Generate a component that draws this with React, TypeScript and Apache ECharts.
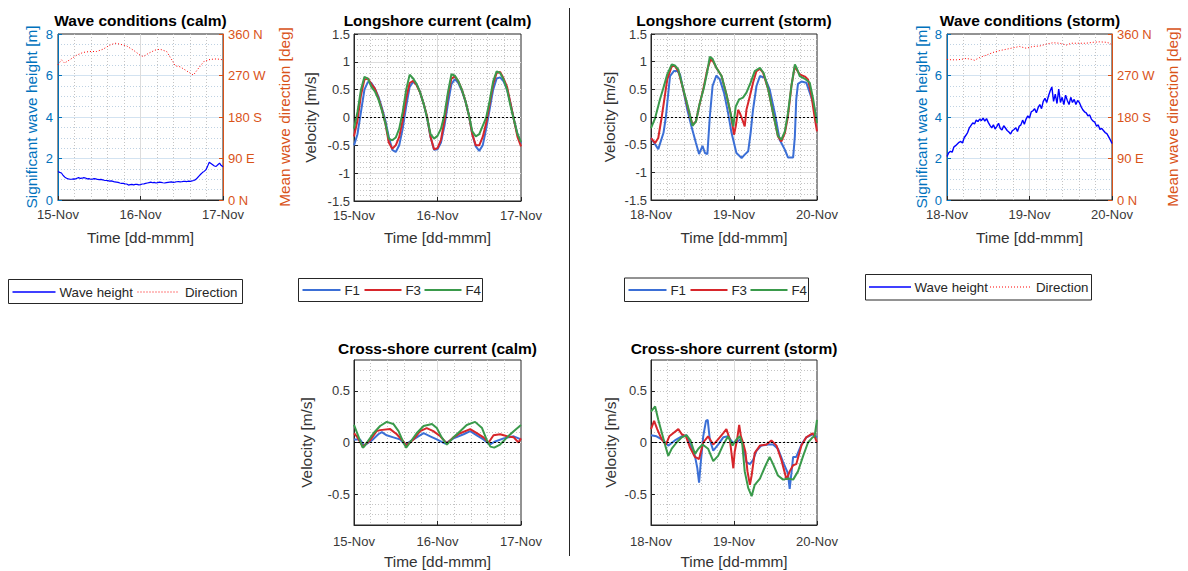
import React, { useEffect, useRef } from "react";
import * as echarts from "echarts";

// ---------- styling constants ----------
const FONT = '"Liberation Sans", Arial, Helvetica, sans-serif';
const INK = "#262626";
const TICK_TEXT = "#383838";
const HS_AXIS = "#0072BD";
const DIR_AXIS = "#D95319";
const HS_LINE = "#0000FF";
const DIR_LINE = "#FF0000";
const C_F1 = "#3B6FD6";
const C_F3 = "#D7262B";
const C_F4 = "#3A9A4B";
const MAJOR_GRID = "#dcdcdc";
const MAJOR_GRID_BLUE = "#d3e3f1";
const MINOR_GRID = "#c4c4c4";

// ---------- tick labels ----------
const CALM_DAYS = ["15-Nov", "16-Nov", "17-Nov"];
const STORM_DAYS = ["18-Nov", "19-Nov", "20-Nov"];
const DIRECTION_TICKS = ["0 N", "90 E", "180 S", "270 W", "360 N"];
const CROSS_TICKS = [-0.5, 0, 0.5];

// ---------- calm period (hours since 15-Nov 00:00) ----------
const CALM_HOURS = [
  0, 1, 2, 3, 4, 5, 6, 7, 8, 9, 10, 11, 12, 13, 14, 15, 16, 17, 18, 19, 20, 21, 22, 23, 24,
  25, 26, 27, 28, 29, 30, 31, 32, 33, 34, 35, 36, 37, 38, 39, 40, 41, 42, 43, 44, 45, 46, 47, 48,
];

const CALM_HS: [number, number][] = [
  [0, 1.37], [0.5, 1.33], [1, 1.3], [1.5, 1.18], [2, 1.1], [2.5, 1.05], [3, 1.02], [3.5, 1.0],
  [4, 1.0], [4.5, 1.02], [5, 1.01], [5.5, 1.05], [6, 1.08], [6.5, 1.04], [7, 1.05], [7.5, 1.08],
  [8, 1.06], [8.5, 1.02], [9, 1.03], [9.5, 1.0], [10, 1.01], [10.5, 1.03], [11, 1.02], [11.5, 0.99],
  [12, 0.98], [12.5, 0.99], [13, 0.97], [13.5, 0.95], [14, 0.94], [14.5, 0.93], [15, 0.91],
  [15.5, 0.92], [16, 0.9], [16.5, 0.87], [17, 0.86], [17.5, 0.85], [18, 0.82], [18.5, 0.8],
  [19, 0.8], [19.5, 0.78], [20, 0.77], [20.5, 0.72], [21, 0.74], [21.5, 0.75], [22, 0.73],
  [22.5, 0.75], [23, 0.75], [23.5, 0.73], [24, 0.74], [24.5, 0.77], [25, 0.78], [25.5, 0.8],
  [26, 0.82], [26.5, 0.84], [27, 0.86], [27.5, 0.83], [28, 0.85], [28.5, 0.82], [29, 0.84],
  [29.5, 0.86], [30, 0.85], [30.5, 0.83], [31, 0.82], [31.5, 0.84], [32, 0.85], [32.5, 0.86],
  [33, 0.87], [33.5, 0.85], [34, 0.86], [34.5, 0.88], [35, 0.89], [35.5, 0.87], [36, 0.88],
  [36.5, 0.9], [37, 0.9], [37.5, 0.89], [38, 0.91], [38.5, 0.9], [39, 0.92], [39.5, 0.94],
  [40, 0.98], [40.5, 1.06], [41, 1.15], [41.5, 1.24], [42, 1.32], [42.5, 1.38], [43, 1.45],
  [43.5, 1.62], [44, 1.82], [44.5, 1.76], [45, 1.7], [45.5, 1.64], [46, 1.62], [46.5, 1.7],
  [47, 1.78], [47.5, 1.66], [48, 1.6],
];

const CALM_DIR: [number, number][] = [
  [0, 293], [1, 304], [1.9, 297], [3.4, 304], [5.4, 314], [7.3, 320], [9.2, 322], [11.2, 322],
  [13.1, 327], [15.1, 336], [16.6, 340], [18, 338], [20, 334], [21.9, 325], [23.9, 314],
  [24.8, 311], [26.3, 318], [28.2, 325], [29.7, 327], [31.6, 322], [33.1, 304], [34.1, 291],
  [35.5, 289], [37, 282], [38.5, 275], [39.4, 271], [40.9, 286], [42.4, 300], [44.3, 305],
  [46.2, 306], [48, 304],
];

const CALM_LONG_F1 = [
  -0.5, -0.3, 0.1, 0.5, 0.64, 0.62, 0.52, 0.38, 0.18, -0.05, -0.35, -0.58, -0.62, -0.5, -0.2, 0.2,
  0.55, 0.64, 0.6, 0.45, 0.25, 0.0, -0.35, -0.58, -0.57, -0.45, -0.15, 0.25, 0.6, 0.69, 0.62, 0.48,
  0.3, 0.05, -0.3, -0.52, -0.6, -0.5, -0.2, 0.15, 0.5, 0.7, 0.72, 0.65, 0.5, 0.25, -0.05, -0.3, -0.47,
];
const CALM_LONG_F3 = [
  -0.34, -0.05, 0.4, 0.68, 0.7, 0.6, 0.52, 0.35, 0.15, -0.1, -0.45, -0.56, -0.5, -0.35, -0.05, 0.35,
  0.62, 0.66, 0.58, 0.45, 0.25, 0.02, -0.35, -0.57, -0.55, -0.4, -0.05, 0.4, 0.7, 0.74, 0.65, 0.5,
  0.3, 0.05, -0.3, -0.5, -0.5, -0.35, -0.1, 0.25, 0.6, 0.8, 0.82, 0.7, 0.55, 0.25, -0.05, -0.35, -0.52,
];
const CALM_LONG_F4 = [
  -0.2, 0.1, 0.5, 0.73, 0.7, 0.55, 0.47, 0.33, 0.13, -0.1, -0.38, -0.41, -0.36, -0.2, 0.1, 0.5,
  0.77, 0.7, 0.6, 0.45, 0.25, 0.0, -0.3, -0.38, -0.33, -0.2, 0.05, 0.45, 0.78, 0.75, 0.65, 0.5,
  0.3, 0.05, -0.25, -0.34, -0.3, -0.15, 0.0, 0.3, 0.65, 0.83, 0.8, 0.68, 0.5, 0.2, -0.05, -0.3, -0.44,
];

const CALM_CROSS_F1: [number, number][] = [
  [0, 0.03], [1.7, 0.03], [2.9, -0.03], [5.1, 0.02], [7, 0.08], [8, 0.1], [9.4, 0.07], [11.3, 0.05],
  [13.2, 0.03], [14.7, -0.02], [17.1, 0.03], [20, 0.09], [21.9, 0.06], [23.8, 0.03], [26.2, -0.01],
  [28.6, 0.04], [31.5, 0.08], [33.4, 0.11], [35.3, 0.07], [37.2, 0.03], [39, -0.02], [40.6, 0.01],
  [43, 0.04], [45.9, 0.06], [48, 0.03],
];
const CALM_CROSS_F3: [number, number][] = [
  [0, 0.09], [0.8, 0.06], [2.5, -0.04], [4.6, 0.02], [6.5, 0.11], [7.5, 0.12], [10.4, 0.13],
  [12.3, 0.08], [14.2, 0.01], [15, -0.03], [17.1, 0.03], [19, 0.11], [20.9, 0.14], [22.8, 0.11],
  [24.8, 0.06], [26.7, -0.01], [28.6, 0.05], [30.5, 0.09], [33.4, 0.13], [35.3, 0.09], [37.2, 0.05],
  [38.7, 0.0], [40.1, 0.07], [42, 0.08], [44, 0.06], [45.9, 0.05], [47.3, 0.0], [48, 0.04],
];
const CALM_CROSS_F4: [number, number][] = [
  [0, 0.17], [2.5, -0.05], [2.9, -0.04], [5.6, 0.09], [7.5, 0.16], [9.4, 0.2], [11.3, 0.18],
  [12.8, 0.11], [14.2, 0.0], [15, -0.05], [16.1, 0.0], [18, 0.09], [20, 0.16], [22.4, 0.18],
  [23.8, 0.14], [25.2, 0.05], [26.7, -0.02], [28.6, 0.05], [30.5, 0.11], [32.4, 0.17], [34.8, 0.2],
  [36.8, 0.14], [38.2, 0.02], [39.2, -0.04], [40.3, -0.05], [42, -0.02], [44, 0.05], [45.9, 0.11],
  [48, 0.17],
];

// ---------- storm period (hours since 18-Nov 00:00) ----------
const STORM_HS: [number, number][] = [
  [0, 2.1], [0.5, 2.28], [1, 2.35], [1.5, 2.3], [2, 2.55], [2.5, 2.62], [3, 2.7], [3.5, 2.78],
  [4, 2.82], [4.5, 2.75], [5, 3.0], [5.5, 3.12], [6, 3.25], [6.5, 3.48], [7, 3.6], [7.5, 3.72],
  [8, 3.66], [8.5, 3.85], [9, 3.78], [9.5, 3.9], [10, 3.82], [10.5, 3.95], [11, 3.8], [11.5, 3.92],
  [12, 3.74], [12.5, 3.6], [13, 3.48], [13.5, 3.62], [14, 3.42], [14.5, 3.55], [15, 3.7], [15.5, 3.45],
  [16, 3.38], [16.5, 3.58], [17, 3.47], [17.5, 3.35], [18, 3.28], [18.5, 3.18], [19, 3.34], [19.5, 3.4],
  [20, 3.48], [20.5, 3.3], [21, 3.55], [21.5, 3.62], [22, 3.85], [22.5, 3.65], [23, 3.9], [23.5, 4.05],
  [24, 3.95], [24.5, 4.25], [25, 4.3], [25.5, 4.4], [26, 4.2], [26.5, 4.45], [27, 4.6], [27.5, 4.4],
  [28, 4.75], [28.5, 4.9], [29, 4.7], [29.5, 5.0], [30, 5.25], [30.5, 5.45], [31, 4.75], [31.5, 5.1],
  [32, 4.65], [32.5, 5.35], [33, 4.7], [33.5, 4.95], [34, 4.6], [34.5, 5.05], [35, 4.8], [35.5, 4.6],
  [36, 4.95], [36.5, 4.7], [37, 4.85], [37.5, 4.6], [38, 4.8], [38.5, 4.7], [39, 4.5], [39.5, 4.35],
  [40, 4.25], [40.5, 4.2], [41, 4.05], [41.5, 4.1], [42, 3.9], [42.5, 3.8], [43, 3.75], [43.5, 3.55],
  [44, 3.62], [44.5, 3.4], [45, 3.45], [45.5, 3.35], [46, 3.25], [46.5, 3.2], [47, 3.05], [47.5, 2.9],
  [48, 2.72],
];

const STORM_DIR: [number, number][] = [
  [0, 305], [1.3, 304], [2.7, 304], [4.2, 305], [5.6, 307], [7.1, 305], [8, 303], [9.5, 309],
  [11.4, 314], [13.4, 320], [15.3, 324], [17.3, 327], [19.2, 330], [21.1, 333], [23.1, 329],
  [25, 333], [27, 334], [28.9, 338], [30.8, 341], [32.8, 340], [34.7, 336], [36.2, 340],
  [38.6, 340], [40.5, 340], [42.5, 342], [44.4, 343], [46.4, 342], [47.3, 340], [48, 336],
];

const STORM_LONG_F1: [number, number][] = [
  [0, -0.38], [2.1, -0.58], [3.6, -0.29], [4.3, 0], [5.5, 0.74], [6.6, 0.83], [7.6, 0.83],
  [8.4, 0.77], [9.3, 0.5], [10.5, 0.13], [11.7, -0.17], [13, -0.47], [13.9, -0.67], [14.9, -0.52],
  [15.6, -0.65], [16.3, -0.67], [17, 0], [17.8, 0.56], [18.9, 0.75], [19.9, 0.68], [21.1, 0.44],
  [22.3, 0.07], [23.3, -0.29], [24.7, -0.65], [26.2, -0.74], [27.1, -0.68], [28.1, -0.62],
  [28.8, -0.29], [29.5, 0.13], [30.5, 0.56], [31.5, 0.74], [32.9, 0.71], [34.3, 0.5], [35.8, 0.07],
  [37.2, -0.41], [38.7, -0.59], [39.6, -0.73], [41.1, -0.73], [41.6, -0.35], [42, 0.32], [42.5, 0.6],
  [43.5, 0.64], [44.9, 0.62], [45.9, 0.44], [46.9, 0.25], [48, -0.05],
];
const STORM_LONG_F3: [number, number][] = [
  [0, -0.38], [1.2, -0.47], [2.1, -0.38], [3.1, 0], [4, 0.38], [4.7, 0.68], [6, 0.92], [6.9, 0.92],
  [7.9, 0.83], [9.3, 0.5], [10.8, 0.13], [12, -0.14], [13, -0.08], [13.9, 0.19], [15.1, 0.5],
  [16.3, 0.86], [17.2, 1.04], [18, 1.0], [18.9, 0.89], [20.4, 0.74], [21.8, 0.41], [23, 0.07],
  [24, -0.32], [24.5, -0.17], [25.2, 0.13], [25.7, 0.07], [26.6, -0.08], [27.1, -0.17], [27.6, 0.13],
  [28.6, 0.38], [29.5, 0.62], [30.5, 0.83], [31.5, 0.87], [32.4, 0.8], [33.9, 0.5], [35.3, 0.07],
  [36.7, -0.35], [37.7, -0.44], [38.7, -0.29], [39.6, 0.01], [40.6, 0.56], [41.6, 0.92], [42.1, 0.86],
  [43, 0.77], [44.5, 0.73], [45.4, 0.68], [46.4, 0.38], [47.3, 0], [48, -0.26],
];
const STORM_LONG_F4: [number, number][] = [
  [0, -0.2], [1.2, -0.02], [2.6, 0.32], [3.6, 0.53], [4.7, 0.77], [6, 0.95], [6.9, 0.93], [7.9, 0.86],
  [9.3, 0.51], [10.8, 0.16], [12, -0.16], [13, -0.08], [14.1, 0.25], [15.3, 0.53], [16.3, 0.83],
  [17, 1.09], [17.8, 1.05], [18.9, 0.89], [20.4, 0.74], [21.8, 0.41], [23, 0.07], [23.8, -0.17],
  [24.5, 0.19], [25.5, 0.32], [26.6, 0.35], [27.6, 0.44], [28.8, 0.62], [30, 0.83], [31.5, 0.89],
  [32.6, 0.79], [33.9, 0.5], [35.3, 0.07], [36.7, -0.34], [37.7, -0.41], [38.7, -0.26], [39.6, 0.07],
  [40.6, 0.56], [41.6, 0.95], [42.1, 0.89], [43, 0.74], [44.5, 0.69], [45.9, 0.62], [46.9, 0.32],
  [48, -0.11],
];

const STORM_CROSS_F1: [number, number][] = [
  [0, 0.07], [1.6, 0.06], [3.6, 0.02], [5, -0.03], [6.9, 0.02], [8.9, 0.06], [10.3, 0.07],
  [11.4, -0.02], [12.7, -0.13], [13.4, -0.25], [13.9, -0.39], [14.4, -0.19], [15.1, 0.06],
  [15.9, 0.21], [16.4, 0.22], [17, 0.03], [18, -0.08], [19.4, -0.02], [20.9, 0.05], [22.3, 0.06],
  [23.6, 0], [24.7, 0], [25.7, 0.03], [26.6, -0.02], [27.6, -0.19], [28.6, -0.21], [29.5, -0.17],
  [30.5, -0.08], [31.9, -0.03], [33.9, -0.02], [35.3, -0.02], [36.7, -0.06], [38.2, -0.19],
  [39.6, -0.3], [40.1, -0.45], [40.6, -0.3], [41.1, -0.14], [42, -0.14], [43.5, -0.02],
  [44.9, 0.05], [46.8, 0.08], [48, 0.05],
];
const STORM_CROSS_F3: [number, number][] = [
  [0, 0.13], [0.9, 0.21], [1.8, 0.13], [3.1, 0.03], [4.3, -0.02], [5.3, 0.06], [6.4, 0.09],
  [7.9, 0.13], [8.9, 0.08], [10.1, 0.06], [11.3, -0.05], [12.7, -0.14], [13.9, -0.16], [15.1, 0],
  [16.5, 0.06], [18, -0.02], [19.4, 0.03], [20.9, 0.09], [21.8, 0.13], [22.8, 0.03], [23.8, -0.25],
  [24.2, -0.09], [24.9, 0.03], [25.5, 0.17], [26, 0.06], [26.6, 0], [27.3, -0.09], [27.9, -0.28],
  [28.6, -0.41], [29.1, -0.32], [30, -0.1], [31.5, -0.03], [33.4, -0.02], [34.8, 0.02], [36.3, -0.03],
  [37.7, -0.17], [39.2, -0.36], [40.1, -0.28], [41.1, -0.22], [42, -0.21], [43.5, -0.03],
  [44.9, 0.05], [46.7, 0.09], [47.3, 0.06], [48, 0],
];
const STORM_CROSS_F4: [number, number][] = [
  [0, 0.3], [1.2, 0.35], [2.1, 0.22], [3.4, 0.06], [4.3, -0.05], [5, -0.13], [6, -0.06], [7.4, 0],
  [8.9, 0.05], [10.3, 0.07], [11.4, 0.02], [12.7, -0.11], [13.7, -0.06], [14.9, -0.02], [16.5, -0.06],
  [18, -0.18], [19.4, -0.13], [20.9, -0.02], [22.3, 0.06], [23.6, -0.03], [24.7, 0.03], [25.7, 0.06],
  [26.4, -0.02], [27.1, -0.28], [28.1, -0.44], [29.1, -0.52], [30, -0.41], [31.5, -0.35],
  [32.9, -0.24], [34.3, -0.14], [35.3, -0.21], [36.7, -0.32], [38.2, -0.36], [39.6, -0.35],
  [41.1, -0.36], [42.5, -0.28], [44, -0.13], [45.4, 0], [46.7, 0.05], [47.3, 0.06], [48, 0.22],
];

// ---------- helpers ----------
const withHours = (values: number[]) => CALM_HOURS.map((h, i) => [h, values[i]]);

const textStyle = (size: number, color: string, weight: string = "normal") => ({
  fontFamily: FONT,
  fontSize: size,
  color,
  fontWeight: weight,
});

function timeAxis(gridIndex: number, days: string[], labelMargin: number, nameGap: number) {
  return {
    type: "value",
    gridIndex,
    min: 0,
    max: 48,
    interval: 24,
    axisLine: { show: true, onZero: false, lineStyle: { color: INK, width: 1 } },
    axisTick: { show: true, inside: true, length: 4, lineStyle: { color: INK } },
    axisLabel: {
      margin: labelMargin,
      ...textStyle(13, TICK_TEXT),
      formatter: (v: number) => days[Math.round(v / 24)] ?? "",
    },
    splitLine: {
      show: true,
      showMinLine: false,
      showMaxLine: false,
      lineStyle: { color: MAJOR_GRID, width: 1 },
    },
    minorTick: { show: false, splitNumber: 5 },
    minorSplitLine: { show: true, lineStyle: { color: MINOR_GRID, width: 1, type: [1, 2] } },
    name: "Time [dd-mmm]",
    nameLocation: "middle",
    nameGap,
    nameTextStyle: textStyle(15.4, "#333333"),
  };
}

function velocityAxis(gridIndex: number, nameGap: number) {
  return {
    type: "value",
    gridIndex,
    min: -1.5,
    max: 1.5,
    interval: 0.5,
    axisLine: { show: true, onZero: false, lineStyle: { color: INK, width: 1 } },
    axisTick: { show: true, inside: true, length: 4, lineStyle: { color: INK } },
    axisLabel: { margin: 4, ...textStyle(13, TICK_TEXT) },
    splitLine: {
      show: true,
      showMinLine: false,
      showMaxLine: false,
      lineStyle: { color: MAJOR_GRID, width: 1 },
    },
    minorTick: { show: false, splitNumber: 5 },
    minorSplitLine: { show: true, lineStyle: { color: MINOR_GRID, width: 1, type: [1, 2] } },
    name: "Velocity [m/s]",
    nameLocation: "middle",
    nameRotate: 90,
    nameGap,
    nameTextStyle: textStyle(15.4, "#333333"),
  };
}

function crossAxis(gridIndex: number, nameGap: number) {
  return {
    type: "value",
    gridIndex,
    min: -0.8,
    max: 0.8,
    interval: 0.1,
    axisLine: { show: true, onZero: false, lineStyle: { color: INK, width: 1 } },
    axisTick: { show: true, inside: true, length: 4, customValues: CROSS_TICKS, lineStyle: { color: INK } },
    axisLabel: { margin: 4, customValues: CROSS_TICKS, ...textStyle(13, TICK_TEXT) },
    splitLine: {
      show: true,
      showMinLine: false,
      showMaxLine: false,
      lineStyle: { color: MAJOR_GRID, width: 1 },
    },
    name: "Velocity [m/s]",
    nameLocation: "middle",
    nameRotate: 90,
    nameGap,
    nameTextStyle: textStyle(15.4, "#333333"),
  };
}

// fine dotted grid every 0.1 m/s for the cross-shore panels
function crossMinorAxis(gridIndex: number) {
  return {
    type: "value",
    gridIndex,
    min: -0.8,
    max: 0.8,
    interval: 0.1,
    position: "left",
    axisLine: { show: false },
    axisTick: { show: false },
    axisLabel: { show: false },
    splitLine: {
      show: true,
      showMinLine: false,
      showMaxLine: false,
      lineStyle: { color: MINOR_GRID, width: 1, type: [1, 2] },
    },
  };
}

function heightAxis(gridIndex: number, nameGap: number) {
  return {
    type: "value",
    gridIndex,
    position: "left",
    min: 0,
    max: 8,
    interval: 2,
    axisLine: { show: true, onZero: false, lineStyle: { color: HS_AXIS, width: 1 } },
    axisTick: { show: true, inside: true, length: 4, lineStyle: { color: HS_AXIS } },
    axisLabel: { margin: 5, ...textStyle(13, HS_AXIS) },
    splitLine: {
      show: true,
      showMinLine: false,
      showMaxLine: false,
      lineStyle: { color: MAJOR_GRID_BLUE, width: 1 },
    },
    minorTick: { show: false, splitNumber: 4 },
    minorSplitLine: { show: true, lineStyle: { color: "#bfd2e3", width: 1, type: [1, 2] } },
    name: "Significant wave height [m]",
    nameLocation: "middle",
    nameRotate: 90,
    nameGap,
    nameTextStyle: textStyle(15.4, HS_AXIS),
  };
}

function directionAxis(gridIndex: number, nameGap: number) {
  return {
    type: "value",
    gridIndex,
    position: "right",
    min: 0,
    max: 360,
    interval: 90,
    axisLine: { show: true, onZero: false, lineStyle: { color: DIR_AXIS, width: 1 } },
    axisTick: { show: true, inside: true, length: 4, lineStyle: { color: DIR_AXIS } },
    axisLabel: {
      margin: 5,
      ...textStyle(13, DIR_AXIS),
      formatter: (v: number) => DIRECTION_TICKS[Math.round(v / 90)] ?? "",
    },
    splitLine: { show: false },
    name: "Mean wave direction [deg]",
    nameLocation: "middle",
    nameRotate: 90,
    nameGap,
    nameTextStyle: textStyle(15.4, DIR_AXIS),
  };
}

const zeroLine = {
  silent: true,
  symbol: ["none", "none"],
  label: { show: false },
  lineStyle: { color: "#000000", type: [2, 2], width: 1 },
  data: [{ yAxis: 0 }],
};

function currentSeries(
  name: string,
  color: string,
  xAxisIndex: number,
  yAxisIndex: number,
  data: number[][],
  withZero = false
) {
  return {
    name,
    type: "line",
    xAxisIndex,
    yAxisIndex,
    data,
    symbol: "none",
    smooth: false,
    lineStyle: { color, width: 2 },
    itemStyle: { color },
    ...(withZero ? { markLine: zeroLine } : {}),
  };
}

// ---------- layout of the six panels ----------
const GRIDS = [
  { left: 58, top: 34, width: 165, height: 166 }, // wave conditions (calm)
  { left: 354, top: 34, width: 167, height: 167 }, // longshore (calm)
  { left: 651, top: 34, width: 166, height: 166 }, // longshore (storm)
  { left: 947, top: 34, width: 165, height: 166 }, // wave conditions (storm)
  { left: 354, top: 360, width: 167, height: 165 }, // cross-shore (calm)
  { left: 651, top: 360, width: 166, height: 165 }, // cross-shore (storm)
];

const TITLES: [string, number, number][] = [
  ["Wave conditions (calm)", 140.5, 20.5],
  ["Longshore current (calm)", 437.5, 20.5],
  ["Longshore current (storm)", 734, 20.5],
  ["Wave conditions (storm)", 1030, 20.5],
  ["Cross-shore current (calm)", 437.5, 348],
  ["Cross-shore current (storm)", 734, 348],
];

function legendText(text: string, x: number, y: number) {
  return {
    type: "text",
    x,
    y,
    z: 10,
    silent: true,
    style: {
      text,
      fill: INK,
      font: `13.3px ${FONT}`,
      align: "left",
      verticalAlign: "middle",
    },
  };
}

function legendLine(x1: number, x2: number, y: number, stroke: string, width: number, dash?: number[]) {
  return {
    type: "line",
    silent: true,
    z: 10,
    shape: { x1, y1: y, x2, y2: y },
    style: { stroke, lineWidth: width, ...(dash ? { lineDash: dash } : {}) },
  };
}

function legendBox(x: number, y: number, width: number, height: number) {
  return {
    type: "rect",
    silent: true,
    z: 1,
    shape: { x, y, width, height },
    style: { fill: "#ffffff", stroke: INK, lineWidth: 1 },
  };
}

// offsets: [blue start, blue end, label, red start, red end, label]
function waveLegend(x: number, y: number, width: number, h: number, o: number[]) {
  const cy = Math.round(y + h / 2);
  return [
    legendBox(x, y, width, h),
    legendLine(x + o[0], x + o[1], cy, HS_LINE, 1.3),
    legendText("Wave height", x + o[2], cy),
    legendLine(x + o[3], x + o[4], cy, DIR_LINE, 1.2, [1, 2]),
    legendText("Direction", x + o[5], cy),
  ];
}

function currentLegend(x: number, y: number, h: number) {
  const cy = Math.round(y + h / 2);
  return [
    legendBox(x, y, 184, h),
    legendLine(x + 4, x + 42, cy, C_F1, 2),
    legendText("F1", x + 46, cy),
    legendLine(x + 66, x + 103, cy, C_F3, 2),
    legendText("F3", x + 107, cy),
    legendLine(x + 126, x + 163, cy, C_F4, 2),
    legendText("F4", x + 167, cy),
  ];
}

function buildOption() {
  const xAxis = [
    timeAxis(0, CALM_DAYS, 8, 30),
    timeAxis(1, CALM_DAYS, 8, 29),
    timeAxis(2, STORM_DAYS, 8, 30),
    timeAxis(3, STORM_DAYS, 8, 30),
    timeAxis(4, CALM_DAYS, 10, 29),
    timeAxis(5, STORM_DAYS, 10, 29),
  ];

  const yAxis = [
    heightAxis(0, 19), // 0
    directionAxis(0, 54), // 1
    velocityAxis(1, 36), // 2
    velocityAxis(2, 34), // 3
    heightAxis(3, 18), // 4
    directionAxis(3, 53), // 5
    crossAxis(4, 40), // 6
    crossMinorAxis(4), // 7
    crossAxis(5, 33), // 8
    crossMinorAxis(5), // 9
  ];

  const series = [
    // wave conditions (calm)
    {
      name: "Wave height",
      type: "line",
      xAxisIndex: 0,
      yAxisIndex: 0,
      data: CALM_HS,
      symbol: "none",
      lineStyle: { color: HS_LINE, width: 1.2 },
    },
    {
      name: "Direction",
      type: "line",
      xAxisIndex: 0,
      yAxisIndex: 1,
      data: CALM_DIR,
      symbol: "none",
      lineStyle: { color: DIR_LINE, width: 1, type: [1, 2] },
    },
    // longshore (calm)
    currentSeries("F1", C_F1, 1, 2, withHours(CALM_LONG_F1), true),
    currentSeries("F3", C_F3, 1, 2, withHours(CALM_LONG_F3)),
    currentSeries("F4", C_F4, 1, 2, withHours(CALM_LONG_F4)),
    // longshore (storm)
    currentSeries("F1", C_F1, 2, 3, STORM_LONG_F1, true),
    currentSeries("F3", C_F3, 2, 3, STORM_LONG_F3),
    currentSeries("F4", C_F4, 2, 3, STORM_LONG_F4),
    // wave conditions (storm)
    {
      name: "Wave height",
      type: "line",
      xAxisIndex: 3,
      yAxisIndex: 4,
      data: STORM_HS,
      symbol: "none",
      lineStyle: { color: HS_LINE, width: 1.4 },
    },
    {
      name: "Direction",
      type: "line",
      xAxisIndex: 3,
      yAxisIndex: 5,
      data: STORM_DIR,
      symbol: "none",
      lineStyle: { color: DIR_LINE, width: 1, type: [1, 2] },
    },
    // cross-shore (calm)
    currentSeries("F1", C_F1, 4, 6, CALM_CROSS_F1, true),
    currentSeries("F3", C_F3, 4, 6, CALM_CROSS_F3),
    currentSeries("F4", C_F4, 4, 6, CALM_CROSS_F4),
    // cross-shore (storm)
    currentSeries("F1", C_F1, 5, 8, STORM_CROSS_F1, true),
    currentSeries("F3", C_F3, 5, 8, STORM_CROSS_F3),
    currentSeries("F4", C_F4, 5, 8, STORM_CROSS_F4),
  ];

  const titles = TITLES.map(([text, x, y]) => ({
    type: "text",
    x,
    y,
    silent: true,
    style: {
      text,
      fill: "#000000",
      font: `bold 15.5px ${FONT}`,
      align: "center",
      verticalAlign: "middle",
    },
  }));

  const graphic = [
    ...titles,
    // divider between the calm and storm halves
    {
      type: "line",
      silent: true,
      shape: { x1: 569.5, y1: 8, x2: 569.5, y2: 556 },
      style: { stroke: INK, lineWidth: 1 },
    },
    ...waveLegend(8.5, 279.5, 234, 24, [4, 47, 51, 129, 170.5, 176.5]),
    ...currentLegend(298.5, 278.5, 23),
    ...currentLegend(624.5, 278, 23.5),
    ...waveLegend(865.5, 274.5, 226, 25.5, [3.5, 45.5, 49, 124.5, 164.5, 170.5]),
  ];

  return {
    animation: false,
    backgroundColor: "#ffffff",
    textStyle: { fontFamily: FONT },
    grid: GRIDS.map((g) => ({
      ...g,
      show: true,
      borderColor: INK,
      borderWidth: 1,
      backgroundColor: "transparent",
      containLabel: false,
      outerBoundsMode: "none",
    })),
    xAxis,
    yAxis,
    series,
    graphic,
  };
}

export default function App() {
  const ref = useRef<HTMLDivElement>(null);

  useEffect(() => {
    if (!ref.current) return;
    const chart = echarts.init(ref.current, undefined, { renderer: "svg" });
    chart.setOption(buildOption() as any);
    return () => chart.dispose();
  }, []);

  return (
    <div
      ref={ref}
      style={{ position: "absolute", left: 0, top: 0, width: 1188, height: 571, background: "#fff" }}
    />
  );
}
